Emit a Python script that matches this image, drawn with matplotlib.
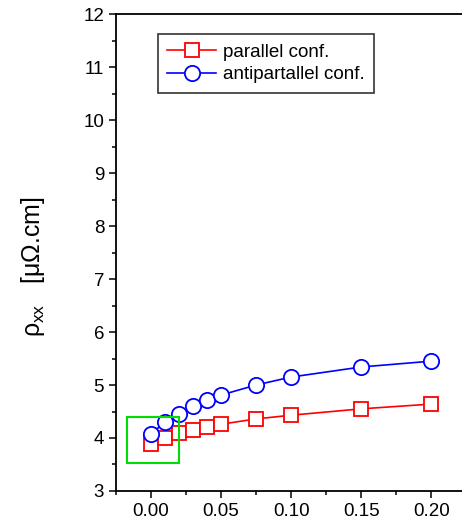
import matplotlib
matplotlib.use("Agg")
import matplotlib.pyplot as plt
from matplotlib.patches import Rectangle
from matplotlib.ticker import MultipleLocator

plt.rcParams['font.family'] = ['Liberation Sans', 'DejaVu Sans']
plt.rcParams['mathtext.fontset'] = 'custom'
plt.rcParams['mathtext.rm'] = 'Liberation Sans'
plt.rcParams['mathtext.it'] = 'Liberation Sans'
plt.rcParams['mathtext.bf'] = 'Liberation Sans:bold'

x = [0.0, 0.01, 0.02, 0.03, 0.04, 0.05, 0.075, 0.10, 0.15, 0.20]
rho_parallel = [3.89, 4.00, 4.09, 4.15, 4.21, 4.26, 4.36, 4.43, 4.55, 4.64]
rho_antiparallel = [4.08, 4.30, 4.45, 4.60, 4.72, 4.81, 5.00, 5.15, 5.34, 5.45]
labels = ["parallel conf.", "antipartallel conf."]

fig = plt.figure(figsize=(4.62, 5.21), dpi=100)
ax = fig.add_axes([0.251, 0.0576, 0.749, 0.9154])

ax.plot(x, rho_parallel, color='#ff0000', lw=1.2, marker='s', ms=10,
        mfc='white', mec='#ff0000', mew=1.3, label=labels[0])
ax.plot(x, rho_antiparallel, color='#0000ff', lw=1.2, marker='o', ms=11,
        mfc='white', mec='#0000ff', mew=1.3, label=labels[1])

ax.add_patch(Rectangle((-0.017, 3.53), 0.037, 0.87, fill=False,
                       edgecolor='#00dd00', lw=1.5, zorder=5))

ax.set_xlim(-0.025, 0.222)
ax.set_ylim(3, 12)
ax.xaxis.set_major_locator(MultipleLocator(0.05))
ax.xaxis.set_minor_locator(MultipleLocator(0.025))
ax.yaxis.set_major_locator(MultipleLocator(1))
ax.yaxis.set_minor_locator(MultipleLocator(0.5))
ax.set_xticks([0.0, 0.05, 0.10, 0.15, 0.20])
ax.set_xticklabels(['0.00', '0.05', '0.10', '0.15', '0.20'])

for s in ['left', 'top', 'bottom']:
    ax.spines[s].set_linewidth(1.3)
ax.spines['right'].set_visible(False)
ax.tick_params(which='major', direction='out', length=5, width=1.1,
               labelsize=13.5, top=False, right=False)
ax.tick_params(which='minor', direction='out', length=3, width=1.1,
               top=False, right=False)

ax.set_ylabel(r'$\rho_{\rm xx}$   [$\mu\Omega$.cm]', fontsize=18)
ax.yaxis.set_label_coords(-0.20, 0.47)

leg = ax.legend(loc='upper left', bbox_to_anchor=(0.121, 0.958), fontsize=13.5,
                frameon=True, fancybox=False, edgecolor='black',
                handlelength=2.6, handletextpad=0.35, borderpad=0.5,
                labelspacing=0.3, borderaxespad=0)
leg.get_frame().set_linewidth(1.2)

fig.savefig('out.png', dpi=100)
